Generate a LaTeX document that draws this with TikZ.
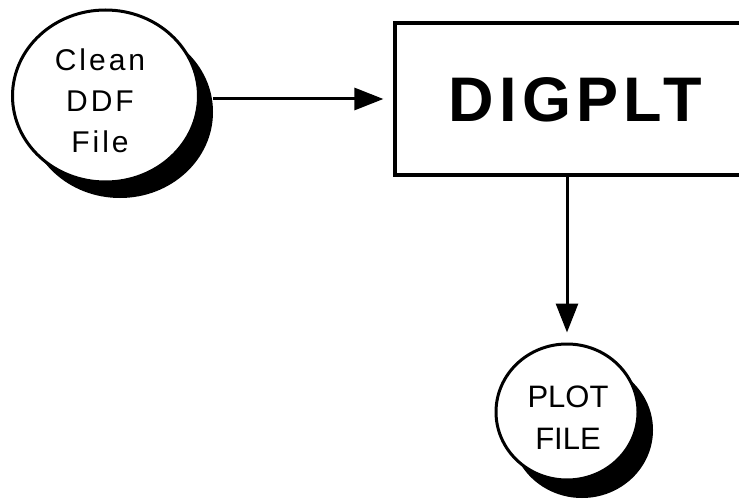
\documentclass[tikz,border=0pt]{standalone}
\usepackage{fontspec}
\setmainfont{Liberation Sans}
\newfontfamily\spacedfont[LetterSpace=10]{Liberation Sans}
\newfontfamily\titlefont[LetterSpace=8.5]{Liberation Sans}
\usetikzlibrary{shapes.geometric,arrows.meta}

\tikzset{
  bubble/.style={ellipse, draw=black, line width=3pt, fill=white, inner sep=0pt},
  bubbleshadow/.style={ellipse, fill=black, inner sep=0pt},
  procbox/.style={rectangle, draw=black, line width=3.2pt, fill=white, inner sep=0pt},
  flow/.style={line width=3pt, -{Triangle[length=29pt,width=22pt]}},
  bubbletext/.style={align=center, inner sep=0pt},
}

\begin{document}
\begin{tikzpicture}[x=1pt,y=-1pt]
  \useasboundingbox (0,0) rectangle (739,500);
  \clip (0,0) rectangle (739,500);

  % input data store with its drop shadow
  \node[bubbleshadow, minimum width=186pt, minimum height=172pt] (cleanshadow) at (120,112) {};
  \node[bubble, minimum width=186pt, minimum height=172pt] (clean) at (105.5,96) {};
  \node[bubbletext, font=\spacedfont\fontsize{30}{41}\selectfont] (cleantext) at (100,101) {Clean\\DDF\\File};

  % the processing step (its right side runs off the page)
  \node[procbox, minimum width=355pt, minimum height=152pt] (digplt) at (572.5,99) {};
  \node[font=\titlefont\fontsize{63}{63}\selectfont\bfseries] (digplttext) at (575,100) {DIGPLT};

  % output data store with its drop shadow
  \node[bubbleshadow, minimum width=142pt, minimum height=136pt] (plotshadow) at (582,430) {};
  \node[bubble, minimum width=142pt, minimum height=136pt] (plot) at (567,412) {};
  \node[bubbletext, font=\fontsize{31}{42}\selectfont] (plottext) at (568,417.5) {PLOT\\FILE};

  % data flows
  \coordinate (flowin) at (cleanshadow.east |- digplt.center);
  \draw[flow, shorten >=10pt] (flowin) -- (digplt.west);
  \draw[flow, shorten >=10pt] (digplt.south -| plot.north) -- (plot.north);
\end{tikzpicture}
\end{document}
